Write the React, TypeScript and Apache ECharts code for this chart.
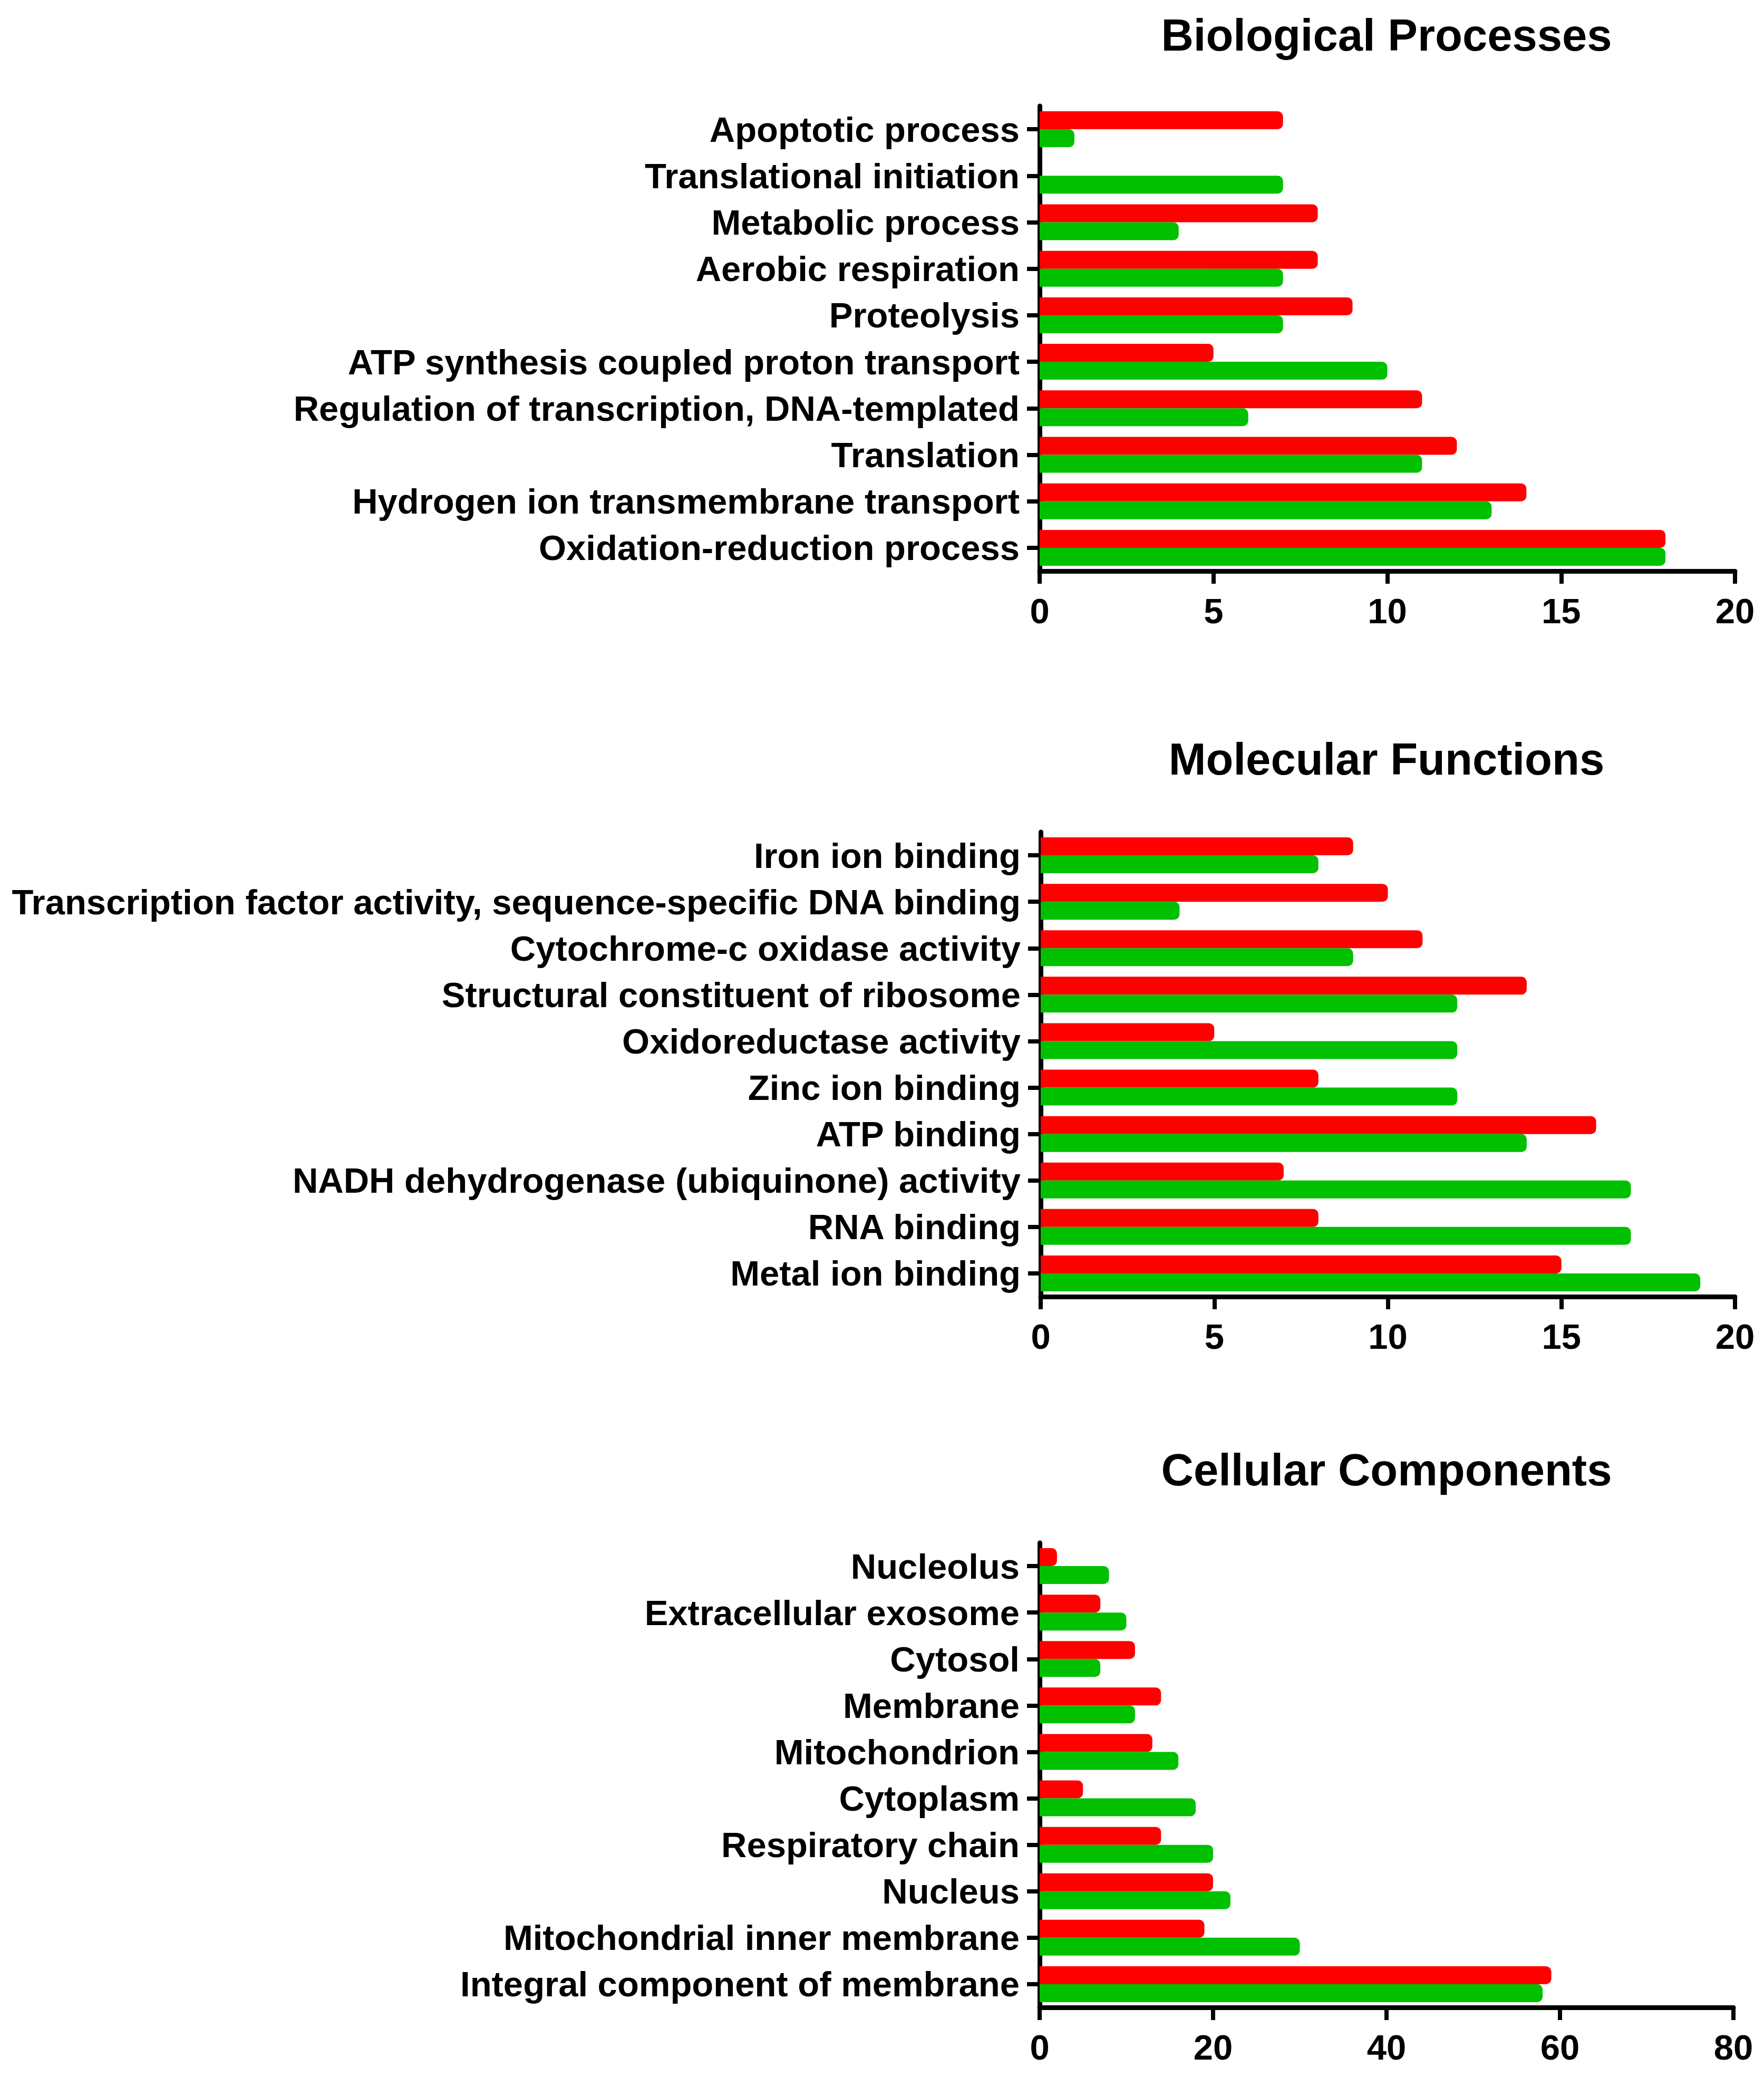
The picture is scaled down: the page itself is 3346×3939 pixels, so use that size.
import React, { useEffect, useRef } from "react";
import * as echarts from "echarts";

const bpCategories = [
  "Apoptotic process",
  "Translational initiation",
  "Metabolic process",
  "Aerobic respiration",
  "Proteolysis",
  "ATP synthesis coupled proton transport",
  "Regulation of transcription, DNA-templated",
  "Translation",
  "Hydrogen ion transmembrane transport",
  "Oxidation-reduction process",
];
const bpRed = [7, 0, 8, 8, 9, 5, 11, 12, 14, 18];
const bpGreen = [1, 7, 4, 7, 7, 10, 6, 11, 13, 18];

const mfCategories = [
  "Iron ion binding",
  "Transcription factor activity, sequence-specific DNA binding",
  "Cytochrome-c oxidase activity",
  "Structural constituent of ribosome",
  "Oxidoreductase activity",
  "Zinc ion binding",
  "ATP binding",
  "NADH dehydrogenase (ubiquinone) activity",
  "RNA binding",
  "Metal ion binding",
];
const mfRed = [9, 10, 11, 14, 5, 8, 16, 7, 8, 15];
const mfGreen = [8, 4, 9, 12, 12, 12, 14, 17, 17, 19];

const ccCategories = [
  "Nucleolus",
  "Extracellular exosome",
  "Cytosol",
  "Membrane",
  "Mitochondrion",
  "Cytoplasm",
  "Respiratory chain",
  "Nucleus",
  "Mitochondrial inner membrane",
  "Integral component of membrane",
];
const ccRed = [2, 7, 11, 14, 13, 5, 14, 20, 19, 59];
const ccGreen = [8, 10, 7, 11, 16, 18, 20, 22, 30, 58];

const panelTitles = ["Biological Processes", "Molecular Functions", "Cellular Components"];
const xMax = [20, 20, 80];
const xInterval = [5, 5, 20];

const FONT = "'Liberation Sans', Arial, sans-serif";
const RED = "#FF0000";
const GREEN = "#00C000";

export default function App() {
  const ref = useRef<HTMLDivElement>(null);
  useEffect(() => {
    document.body.style.margin = "0";
    if (!ref.current) return;
    const chart = echarts.init(ref.current, undefined, { renderer: "svg" });

    const grids = [
      { left: 1972, right: 55, top: 201, height: 882 },
      { left: 1974, right: 55, top: 1578, height: 881 },
      { left: 1972, right: 58, top: 2926, height: 881 },
    ];
    const titleTops = [24, 1397, 2745];
    const cats = [bpCategories, mfCategories, ccCategories];
    const reds = [bpRed, mfRed, ccRed];
    const greens = [bpGreen, mfGreen, ccGreen];

    const axisLine = { show: true, lineStyle: { color: "#000", width: 9 } };
    const axisTick = { show: true, length: 24, lineStyle: { color: "#000", width: 8 } };

    const option: any = {
      animation: false,
      backgroundColor: "#fff",
      title: panelTitles.map((t, i) => ({
        text: t,
        left: 2630,
        top: titleTops[i],
        textAlign: "center",
        padding: 0,
        textStyle: { fontFamily: FONT, fontWeight: "bold", fontSize: 85, color: "#000" },
      })),
      grid: grids.map((g) => ({ ...g, containLabel: false })),
      xAxis: grids.map((_, i) => ({
        type: "value",
        gridIndex: i,
        min: 0,
        max: xMax[i],
        interval: xInterval[i],
        axisLine,
        axisTick,
        splitLine: { show: false },
        axisLabel: {
          margin: 42,
          fontFamily: FONT,
          fontWeight: "bold",
          fontSize: 67,
          color: "#000",
        },
      })),
      yAxis: grids.map((_, i) => ({
        type: "category",
        gridIndex: i,
        data: cats[i],
        inverse: true,
        axisLine,
        axisTick: { ...axisTick, alignWithLabel: true },
        splitLine: { show: false },
        axisLabel: {
          margin: 38,
          fontFamily: FONT,
          fontWeight: "bold",
          fontSize: 67,
          color: "#000",
          interval: 0,
        },
      })),
      series: grids.flatMap((_, i) => [
        {
          type: "bar",
          xAxisIndex: i,
          yAxisIndex: i,
          data: reds[i],
          barWidth: 34,
          barGap: "0%",
          itemStyle: { color: RED, borderRadius: [0, 10, 10, 0] },
        },
        {
          type: "bar",
          xAxisIndex: i,
          yAxisIndex: i,
          data: greens[i],
          barWidth: 34,
          barGap: "0%",
          itemStyle: { color: GREEN, borderRadius: [0, 10, 10, 0] },
        },
      ]),
    };
    chart.setOption(option);
    return () => chart.dispose();
  }, []);
  return <div ref={ref} style={{ width: 3346, height: 3939 }} />;
}
